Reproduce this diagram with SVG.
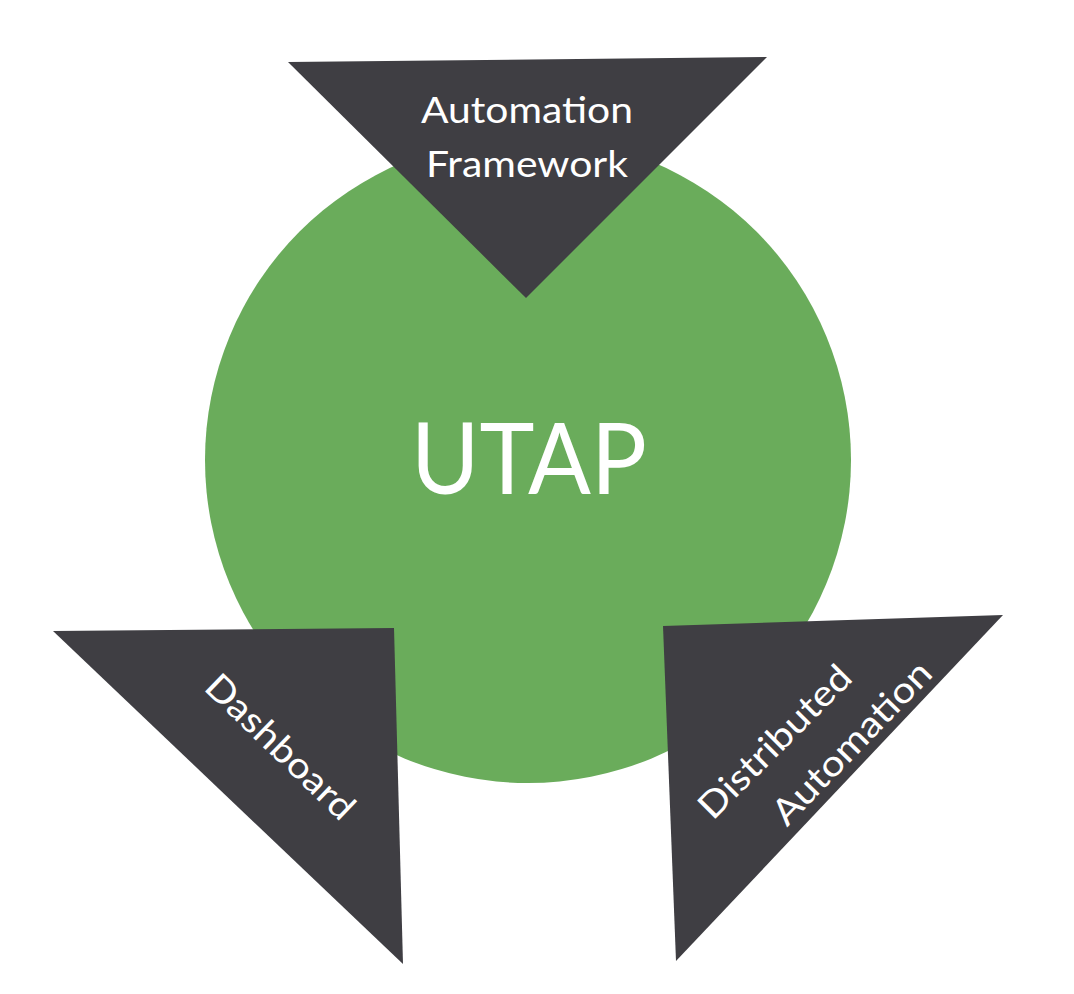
<svg xmlns="http://www.w3.org/2000/svg" width="1074" height="994" viewBox="0 0 1074 994">
  <style>
    .tri { fill: #3f3e43; }
    .hub { fill: #6aac5b; }
    .lbl { fill: #ffffff; font-family: "Lato", "Open Sans", "Liberation Sans", sans-serif; font-size: 36px; text-anchor: middle; }
    .big { fill: #ffffff; font-family: "Lato", "Open Sans", "Liberation Sans", sans-serif; font-size: 99px; text-anchor: middle; }
  </style>
  <rect width="1074" height="994" fill="#ffffff"/>
  <g id="utap">
    <circle class="hub" cx="528" cy="460" r="323"/>
    <text class="big" x="529" y="494" textLength="236" lengthAdjust="spacingAndGlyphs">UTAP</text>
  </g>
  <g id="connectors"/>
  <g id="automation-framework">
    <polygon class="tri" points="288,62 767,57 526,298"/>
    <text class="lbl" x="527" y="123" textLength="212" lengthAdjust="spacingAndGlyphs">Automation</text>
    <text class="lbl" x="527" y="177" textLength="202" lengthAdjust="spacingAndGlyphs">Framework</text>
  </g>
  <g id="dashboard">
    <polygon class="tri" points="53,631 394,628 403,964"/>
    <text class="lbl" transform="translate(280,747) rotate(44)" x="0" y="12" textLength="192" lengthAdjust="spacingAndGlyphs">Dashboard</text>
  </g>
  <g id="distributed-automation">
    <polygon class="tri" points="663,626 1003,615 676,961"/>
    <text class="lbl" transform="translate(775,742) rotate(-45)" x="0" y="12" textLength="200" lengthAdjust="spacingAndGlyphs">Distributed</text>
    <text class="lbl" transform="translate(852,743) rotate(-46)" x="0" y="12" textLength="212" lengthAdjust="spacingAndGlyphs">Automation</text>
  </g>
</svg>
